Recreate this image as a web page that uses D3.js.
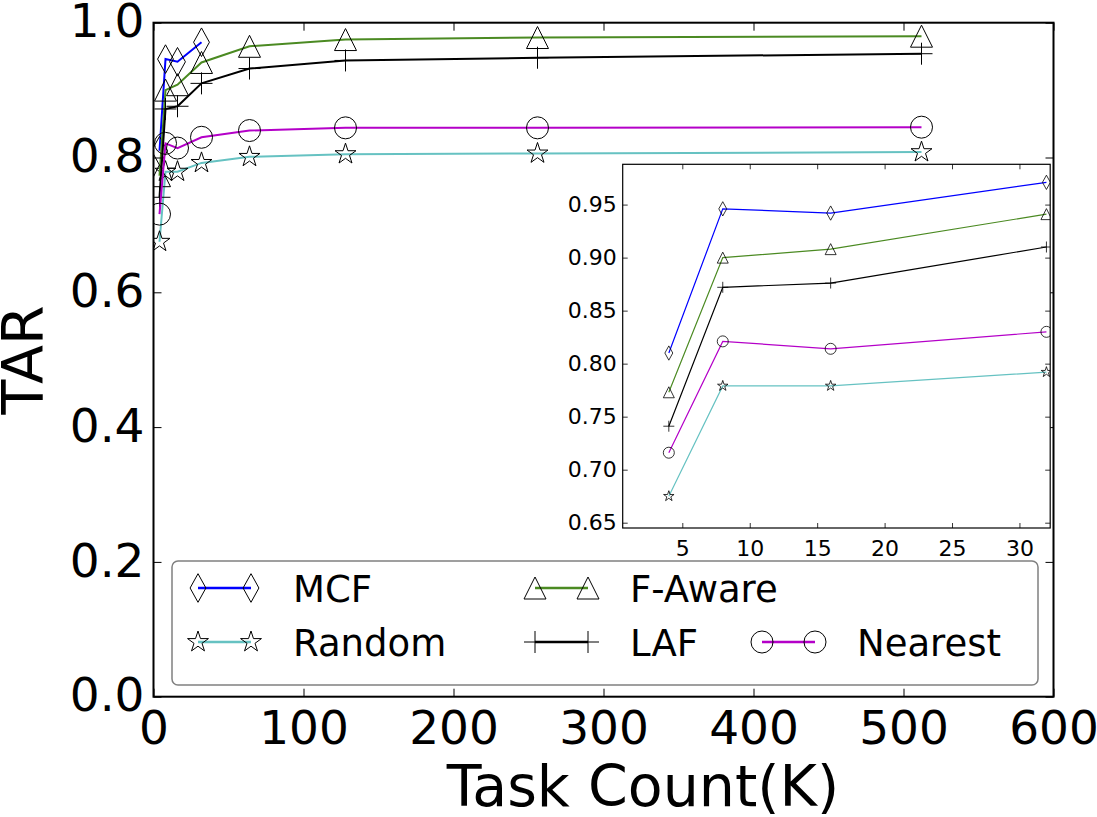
<!DOCTYPE html>
<html>
<head>
<meta charset="utf-8">
<script src="https://d3js.org/d3.v7.min.js"></script>
<style>
  body { margin: 0; background: #fff; }
  text { font-family: "DejaVu Sans", sans-serif; }
</style>
</head>
<body>
<div id="chart-area"></div>
<script>
// TAR vs task count, with zoomed inset for the first points

// data
const taskCounts = [4, 8, 16, 32, 64, 128, 256, 512]
const insetTaskCounts = [4, 8, 16, 32]
const seriesNames = ["MCF", "Random", "F-Aware", "LAF", "Nearest"]
const mcfTar = [0.810, 0.946, 0.942, 0.971]
const randomTar = [0.675, 0.779, 0.779, 0.792, 0.801, 0.805, 0.806, 0.808]
const fAwareTar = [0.773, 0.900, 0.908, 0.941, 0.965, 0.975, 0.978, 0.980]
const lafTar = [0.741, 0.872, 0.876, 0.910, 0.932, 0.944, 0.948, 0.954]
const nearestTar = [0.716, 0.821, 0.814, 0.830, 0.840, 0.844, 0.844, 0.845]

const mainXTicks = [0, 100, 200, 300, 400, 500, 600]
const mainYTicks = [0.0, 0.2, 0.4, 0.6, 0.8, 1.0]
const insetXTicks = [5, 10, 15, 20, 25, 30]
const insetYTicks = [0.65, 0.70, 0.75, 0.80, 0.85, 0.90, 0.95]

// styles per series
const seriesStyle = {
  "MCF":     { color: "#0000ff", marker: "diamond" },
  "Random":  { color: "#66c2c2", marker: "star" },
  "F-Aware": { color: "#4b8a22", marker: "triangle" },
  "LAF":     { color: "#000000", marker: "plus" },
  "Nearest": { color: "#b400c8", marker: "circle" }
}
const seriesValues = [mcfTar, randomTar, fAwareTar, lafTar, nearestTar]
const series = seriesNames.map((name, i) => ({
  name: name,
  color: seriesStyle[name].color,
  marker: seriesStyle[name].marker,
  points: seriesValues[i].map((v, j) => ({ x: taskCounts[j], y: v }))
}))

// set up chart area
const MARGIN = { LEFT: 153.5, TOP: 22.7 }
const WIDTH = 900
const HEIGHT = 674
const INSET = { LEFT: 622.7, TOP: 164.3, WIDTH: 427.5, HEIGHT: 363.7 }

const svg = d3.select("#chart-area").append("svg")
    .attr("width", 1097)
    .attr("height", 817)

// marker shapes, s = nominal size
function markerPath(type, s) {
  const h = s / 2
  if (type === "diamond") {
    const hh = h * 1.3, hw = h * 0.72
    return `M0,${-hh}L${hw},0L0,${hh}L${-hw},0Z`
  }
  if (type === "triangle") return `M0,${-h}L${h},${h}L${-h},${h}Z`
  if (type === "plus") return `M${-h},0L${h},0M0,${-h}L0,${h}`
  if (type === "circle") return `M${h},0A${h},${h} 0 1,1 ${-h},0A${h},${h} 0 1,1 ${h},0Z`
  if (type === "star") {
    let p = ""
    for (let k = 0; k < 10; k++) {
      const r = k % 2 === 0 ? h : h * 0.382
      const a = -Math.PI / 2 + k * Math.PI / 5
      p += (k === 0 ? "M" : "L") + (r * Math.cos(a)).toFixed(2) + "," + (r * Math.sin(a)).toFixed(2)
    }
    return p + "Z"
  }
}

function drawMarkers(sel, data, xs, ys, type, s, lw) {
  sel.selectAll("path.marker").data(data).enter().append("path")
    .attr("class", "marker")
    .attr("transform", d => `translate(${xs(d.x)},${ys(d.y)})`)
    .attr("d", markerPath(type, s))
    .attr("fill", "none")
    .attr("stroke", "#000")
    .attr("stroke-width", lw)
}

function styleAxis(ax, fontSize, tickWidth) {
  ax.select(".domain").remove()
  ax.attr("font-family", "DejaVu Sans").attr("font-size", fontSize)
  ax.selectAll(".tick line").attr("stroke", "#000").attr("stroke-width", tickWidth)
  ax.selectAll(".tick text").attr("fill", "#000")
}

// draws a full framed axes box with inward ticks on all sides
function drawFrame(g, xs, ys, w, h, xTicks, yTicks, xFmt, yFmt, o) {
  const xAxisCall = d3.axisBottom(xs).tickValues(xTicks).tickFormat(xFmt)
    .tickSizeInner(-o.tick).tickSizeOuter(0).tickPadding(o.xPad)
  const yAxisCall = d3.axisLeft(ys).tickValues(yTicks).tickFormat(yFmt)
    .tickSizeInner(-o.tick).tickSizeOuter(0).tickPadding(o.yPad)
  const topCall = d3.axisTop(xs).tickValues(xTicks).tickFormat("")
    .tickSizeInner(-o.tick).tickSizeOuter(0)
  const rightCall = d3.axisRight(ys).tickValues(yTicks).tickFormat("")
    .tickSizeInner(-o.tick).tickSizeOuter(0)

  const xg = g.append("g").attr("transform", `translate(0,${h})`).call(xAxisCall)
  const yg = g.append("g").call(yAxisCall)
  const tg = g.append("g").call(topCall)
  const rg = g.append("g").attr("transform", `translate(${w},0)`).call(rightCall)
  ;[xg, yg, tg, rg].forEach(a => styleAxis(a, o.font, o.tickWidth))
  yg.selectAll(".tick text").attr("dy", o.yDy)

  g.append("rect")
    .attr("width", w).attr("height", h)
    .attr("fill", "none").attr("stroke", "#000").attr("stroke-width", o.frame)
}

// ---------------- main axes
const g = svg.append("g")
    .attr("transform", `translate(${MARGIN.LEFT}, ${MARGIN.TOP})`)

const x = d3.scaleLinear().domain([0, 600]).range([0, WIDTH])
const y = d3.scaleLinear().domain([0, 1]).range([HEIGHT, 0])

svg.append("clipPath").attr("id", "main-clip")
  .append("rect").attr("width", WIDTH).attr("height", HEIGHT)

const plot = g.append("g").attr("clip-path", "url(#main-clip)")
const line = d3.line().x(d => x(d.x)).y(d => y(d.y))

series.forEach(s => {
  const sg = plot.append("g")
  sg.append("path").datum(s.points)
    .attr("d", line)
    .attr("fill", "none")
    .attr("stroke", s.color)
    .attr("stroke-width", 2)
  drawMarkers(sg, s.points, x, y, s.marker, 22, 1)
})

drawFrame(g, x, y, WIDTH, HEIGHT, mainXTicks, mainYTicks, d3.format("d"), d3.format(".1f"),
  { tick: 8, xPad: 14, yPad: 9, yDy: "0.30em", font: 47, tickWidth: 1, frame: 2 })

// axis labels
svg.append("text")
  .attr("x", 643)
  .attr("y", 806)
  .attr("font-size", 57)
  .attr("text-anchor", "middle")
  .text("Task Count(K)")

svg.append("text")
  .attr("transform", "translate(43, 360) rotate(-90)")
  .attr("font-size", 57)
  .attr("text-anchor", "middle")
  .text("TAR")

// ---------------- legend (entries placed by column / row slot)
const legendColumnX = [198, 535, 762]
const legendRowY = [588, 642]
const legendCol = [0, 0, 1, 1, 2]
const legendRow = [0, 1, 0, 1, 1]
const HANDLE = 53

const legend = svg.append("g")
legend.append("rect")
  .attr("x", 172).attr("y", 561)
  .attr("width", 866).attr("height", 124)
  .attr("rx", 6).attr("ry", 6)
  .attr("fill", "#fff")
  .attr("stroke", "#808080")
  .attr("stroke-width", 1.5)

series.forEach((s, i) => {
  const lx = legendColumnX[legendCol[i]]
  const ly = legendRowY[legendRow[i]]
  const eg = legend.append("g")
  eg.append("line")
    .attr("x1", lx).attr("x2", lx + HANDLE)
    .attr("y1", ly).attr("y2", ly)
    .attr("stroke", s.color)
    .attr("stroke-width", 2.5)
  ;[lx, lx + HANDLE].forEach(mx => {
    eg.append("path")
      .attr("transform", `translate(${mx},${ly})`)
      .attr("d", markerPath(s.marker, 22))
      .attr("fill", "none")
      .attr("stroke", "#000")
      .attr("stroke-width", 1)
  })
  eg.append("text")
    .attr("x", lx + HANDLE + 42)
    .attr("y", ly + 14)
    .attr("font-size", 37)
    .text(s.name)
})

// ---------------- inset
const ig = svg.append("g")
    .attr("transform", `translate(${INSET.LEFT}, ${INSET.TOP})`)

const xi = d3.scaleLinear().domain([0.58, 32.28]).range([0, INSET.WIDTH])
const yi = d3.scaleLinear().domain([0.645, 0.988]).range([INSET.HEIGHT, 0])

ig.append("rect").attr("width", INSET.WIDTH).attr("height", INSET.HEIGHT).attr("fill", "#fff")

svg.append("clipPath").attr("id", "inset-clip")
  .append("rect").attr("width", INSET.WIDTH).attr("height", INSET.HEIGHT)

const iplot = ig.append("g").attr("clip-path", "url(#inset-clip)")
const iline = d3.line().x(d => xi(d.x)).y(d => yi(d.y))

series.forEach(s => {
  const pts = s.points.filter(d => insetTaskCounts.includes(d.x))
  const sg = iplot.append("g")
  sg.append("path").datum(pts)
    .attr("d", iline)
    .attr("fill", "none")
    .attr("stroke", s.color)
    .attr("stroke-width", 1.2)
  drawMarkers(sg, pts, xi, yi, s.marker, 11, 0.8)
})

drawFrame(ig, xi, yi, INSET.WIDTH, INSET.HEIGHT, insetXTicks, insetYTicks, d3.format("d"), d3.format(".2f"),
  { tick: 5, xPad: 12, yPad: 6, yDy: "0.32em", font: 22, tickWidth: 0.8, frame: 1.2 })
</script>
</body>
</html>
